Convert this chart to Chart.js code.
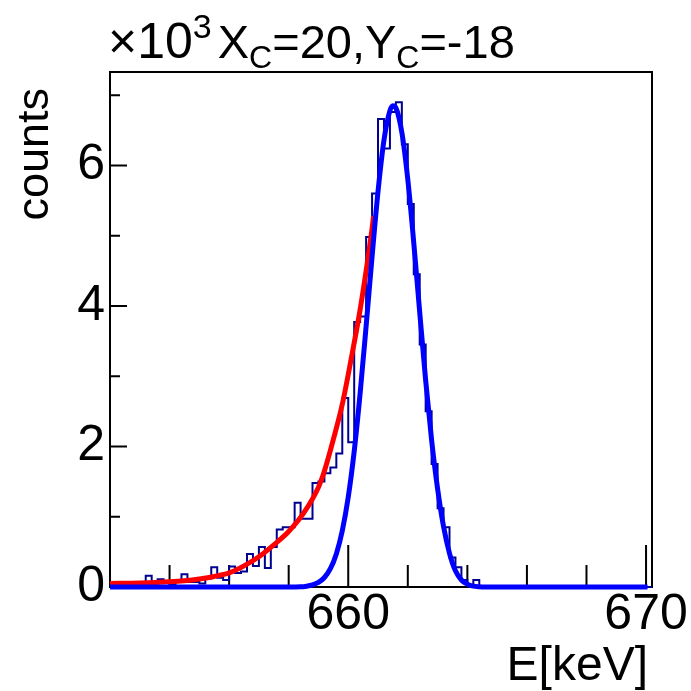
<!DOCTYPE html>
<html>
<head>
<meta charset="utf-8">
<script src="https://cdn.jsdelivr.net/npm/chart.js@4.4.1/dist/chart.umd.min.js"></script>
<style>
  html, body { margin: 0; padding: 0; background: #fff; overflow: hidden; }
  canvas { display: block; }
</style>
</head>
<body>
<canvas id="spectrum" width="691" height="691"></canvas>
<script>
// histogram: 91 bins of 0.2 keV starting at 652.0 keV
const binStart = 652.0;
const binWidth = 0.2;
const binCounts = [
  20, 30, 10, 40, 30, 20, 160, 50, 110, 60,
  40, 80, 180, 70, 70, 50, 120, 280, 130, 100,
  290, 200, 220, 470, 300, 570, 270, 570, 820, 850,
  850, 1200, 970, 970, 1480, 1500, 1620, 1700, 1900, 2690,
  2060, 3770, 3850, 4980, 5600, 6660, 6240, 6760, 6900, 6300,
  5450, 4450, 3450, 2500, 1750, 1120, 850, 420, 280, 100,
  30, 100, 10, 0, 0, 0, 0, 0, 0, 0,
  0, 0, 0, 0, 0, 0, 0, 0, 0, 0,
  0, 0, 0, 0, 0, 0, 0, 0, 0, 0,
  0
];

// gaussian fit (blue)
const gausE = [652.0, 658.0, 658.4, 658.6, 658.8, 659.0, 659.2, 659.4, 659.6, 659.8,
  660.0, 660.2, 660.4, 660.6, 660.8, 661.0, 661.2, 661.4, 661.5, 661.6,
  661.8, 662.0, 662.2, 662.4, 662.6, 662.8, 663.0, 663.2, 663.4, 663.6,
  663.8, 664.0, 664.2, 664.4, 664.6, 670.05];
const gausCounts = [0, 0, 3, 12, 30, 65, 135, 260, 470, 800,
  1280, 1930, 2760, 3710, 4700, 5630, 6360, 6780, 6850, 6820,
  6470, 5800, 4900, 3910, 2940, 2090, 1400, 860, 480, 230,
  100, 40, 12, 3, 0, 0];

// low-energy tail fit (red)
const tailE = [652.0, 653.0, 654.0, 654.5, 655.0, 655.5, 656.0, 656.5, 657.0, 657.5,
  658.0, 658.5, 659.0, 659.2, 659.5, 659.8, 660.1, 660.4, 660.6, 660.8, 660.85];
const tailCounts = [50, 58, 75, 90, 115, 150, 200, 300, 430, 600,
  790, 1050, 1420, 1650, 2100, 2600, 3250, 3950, 4500, 5100, 5280];

const xMajorTicks = [660, 670];
const xMinorTicks = [654, 656, 658, 662, 664, 666, 668];
const yMajorTicks = [0, 2000, 4000, 6000];
const yMinorTicks = [1000, 3000, 5000, 7000];

const FONT = '"Liberation Sans", Arial, Helvetica, sans-serif';

const histPoints = binCounts.map((c, i) => ({ x: +(binStart + i * binWidth).toFixed(1), y: c }));
histPoints.push({ x: +(binStart + binCounts.length * binWidth).toFixed(1), y: binCounts[binCounts.length - 1] });

// frame, inward ticks and the ROOT style texts
const rootFrame = {
    id: 'rootFrame',
    beforeDatasetsDraw(chart) {
        const { ctx, chartArea: a, scales: { x, y } } = chart;
        ctx.save();
        ctx.strokeStyle = '#000';
        ctx.lineWidth = 2;
        ctx.strokeRect(a.left, a.top, a.right - a.left, a.bottom - a.top);
        ctx.beginPath();
        xMajorTicks.forEach(v => { const px = x.getPixelForValue(v); ctx.moveTo(px, a.bottom); ctx.lineTo(px, a.bottom - 42); });
        xMinorTicks.forEach(v => { const px = x.getPixelForValue(v); ctx.moveTo(px, a.bottom); ctx.lineTo(px, a.bottom - 22); });
        yMajorTicks.forEach(v => { const py = y.getPixelForValue(v); ctx.moveTo(a.left, py); ctx.lineTo(a.left + 17, py); });
        yMinorTicks.forEach(v => { const py = y.getPixelForValue(v); ctx.moveTo(a.left, py); ctx.lineTo(a.left + 10, py); });
        ctx.stroke();
        ctx.restore();
    },
    afterDraw(chart) {
        const { ctx } = chart;
        ctx.save();
        ctx.fillStyle = '#000';
        ctx.textBaseline = 'alphabetic';

        // exponent and title, with super/subscripts
        const runs = [
            { t: '\u00d710', size: 50, dy: 0 },
            { t: '3', size: 34, dy: -20 },
            { t: 'X', size: 47, dy: 0, gap: 6 },
            { t: 'C', size: 32, dy: 10 },
            { t: '=20,Y', size: 47, dy: 0 },
            { t: 'C', size: 32, dy: 10 },
            { t: '=-18', size: 47, dy: 0 }
        ];
        let cx = 108;
        const base = 58;
        runs.forEach(r => {
            cx += r.gap || 0;
            ctx.font = r.size + 'px ' + FONT;
            ctx.textAlign = 'left';
            ctx.fillText(r.t, cx, base + r.dy);
            cx += ctx.measureText(r.t).width;
        });

        // axis titles
        ctx.font = '48px ' + FONT;
        ctx.textAlign = 'right';
        ctx.fillText('E[keV]', 648, 680);

        ctx.font = '45px ' + FONT;
        ctx.translate(48, 88);
        ctx.rotate(-Math.PI / 2);
        ctx.textAlign = 'right';
        ctx.fillText('counts', 0, 0);
        ctx.restore();
    }
};

const ctx = document.getElementById('spectrum').getContext('2d');

new Chart(ctx, {
    type: 'line',
    data: {
        datasets: [
            {
                label: 'gaus',
                data: gausE.map((e, i) => ({ x: e, y: gausCounts[i] })),
                borderColor: '#0000ff',
                borderWidth: 5,
                pointRadius: 0,
                cubicInterpolationMode: 'monotone',
                clip: 6,
                order: 0
            },
            {
                label: 'tail',
                data: tailE.map((e, i) => ({ x: e, y: tailCounts[i] })),
                borderColor: '#ff0000',
                borderWidth: 5,
                pointRadius: 0,
                cubicInterpolationMode: 'monotone',
                clip: 6,
                order: 1
            },
            {
                label: 'hist',
                data: histPoints,
                borderColor: '#000090',
                borderWidth: 2,
                pointRadius: 0,
                stepped: 'before',
                clip: 4,
                order: 2
            }
        ]
    },
    options: {
        responsive: false,
        animation: false,
        devicePixelRatio: 1,
        layout: { padding: { top: 72, right: 39, left: 0, bottom: 0 } },
        plugins: {
            legend: { display: false },
            tooltip: { enabled: false },
            title: { display: false }
        },
        scales: {
            x: {
                type: 'linear',
                min: 652,
                max: 670.2,
                afterBuildTicks: (s) => { s.ticks = xMajorTicks.map(v => ({ value: v })); },
                afterFit: (s) => { s.height = 104; s.paddingLeft = 0; s.paddingRight = 0; },
                grid: { display: false, drawTicks: false },
                border: { display: false },
                ticks: {
                    color: '#000',
                    font: { family: FONT, size: 50, lineHeight: 1 },
                    padding: 3,
                    maxRotation: 0,
                    autoSkip: false
                }
            },
            y: {
                min: 0,
                max: 7330,
                afterBuildTicks: (s) => { s.ticks = yMajorTicks.map(v => ({ value: v })); },
                afterFit: (s) => { s.width = 110; s.paddingTop = 0; s.paddingBottom = 0; },
                grid: { display: false, drawTicks: false },
                border: { display: false },
                ticks: {
                    color: '#000',
                    font: { family: FONT, size: 50, lineHeight: 1 },
                    padding: 5,
                    callback: (v) => v / 1000
                }
            }
        }
    },
    plugins: [rootFrame]
});
</script>
</body>
</html>
